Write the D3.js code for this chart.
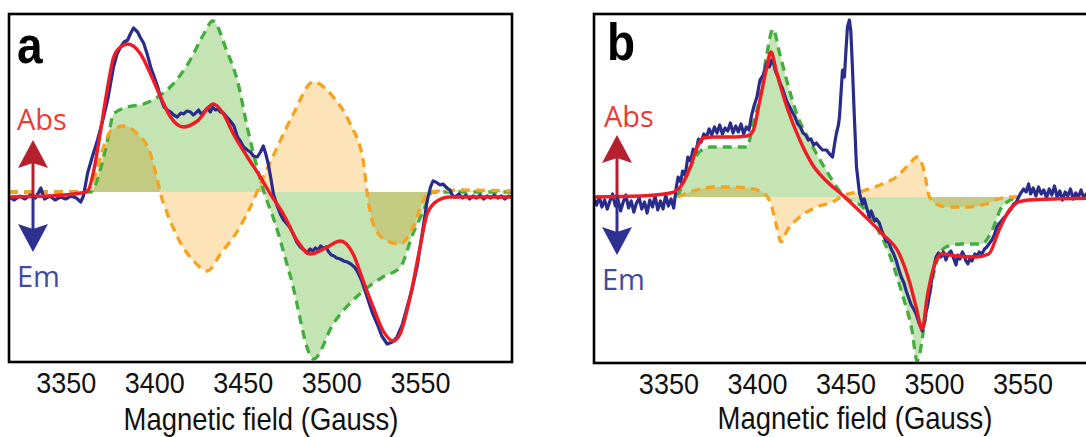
<!DOCTYPE html>
<meta charset="utf-8">
<style>
body { margin: 0; background: #fff; }
svg { display: block; }
.tick text { font-family: "Liberation Sans", Arial, sans-serif; font-size: 27px; fill: #111; }
.title { font-family: "Liberation Sans", Arial, sans-serif; font-size: 27.5px; fill: #111; }
.letter { font-family: "Liberation Sans", Arial, sans-serif; font-size: 46px; font-weight: bold; fill: #000; }
.lbl { font-family: "Open Sans", sans-serif; font-size: 29px; }
</style>
<svg id="chart" width="1086" height="437"></svg>
<script src="https://d3js.org/d3.v7.min.js"></script>
<script>
// field (Gauss), intensity (arb. units, 0 = baseline)
const ticks = [3350, 3400, 3450, 3500, 3550];

const blueA = [[3318,-0.05],[3321,-0.08],[3324,-0.04],[3327,-0.07],[3330,-0.03],[3333,-0.06],[3336,0.04],[3338,-0.07],[3341,-0.04],[3344,-0.08],[3347,-0.05],[3350,-0.07],[3353,-0.04],[3356,-0.06],[3358.5,-0.10],[3360,-0.04],[3362.4,0.19],[3365,0.35],[3368,0.52],[3371,0.72],[3373.7,0.92],[3377,1.25],[3379,1.38],[3381,1.45],[3383,1.50],[3385,1.52],[3386.5,1.58],[3388.3,1.64],[3390.6,1.60],[3392,1.55],[3394,1.49],[3396,1.38],[3398,1.25],[3400,1.15],[3402,1.05],[3404,0.92],[3405.5,0.85],[3407.5,0.82],[3409.2,0.80],[3411,0.77],[3413,0.75],[3415,0.79],[3416.5,0.78],[3418.5,0.81],[3420.5,0.80],[3422,0.77],[3423.5,0.79],[3425,0.82],[3426.5,0.78],[3428,0.80],[3430,0.84],[3431.7,0.80],[3433,0.85],[3434.6,0.82],[3436,0.83],[3437.4,0.80],[3439,0.79],[3441,0.75],[3443,0.71],[3445,0.66],[3447,0.55],[3448.6,0.51],[3450.5,0.45],[3452.5,0.42],[3454.3,0.40],[3456,0.36],[3458.2,0.35],[3460,0.40],[3461.6,0.46],[3463,0.38],[3464.4,0.28],[3466,0.12],[3467.3,-0.02],[3469,-0.12],[3471.2,-0.22],[3473,-0.28],[3475,-0.32],[3476.8,-0.36],[3478.5,-0.42],[3480.5,-0.50],[3482.5,-0.55],[3484.5,-0.58],[3486.4,-0.61],[3488,-0.57],[3489.5,-0.59],[3491,-0.56],[3492.5,-0.58],[3494,-0.54],[3495.5,-0.56],[3497,-0.55],[3498.5,-0.60],[3500,-0.63],[3501.5,-0.64],[3503,-0.66],[3505,-0.67],[3507,-0.69],[3509,-0.70],[3511,-0.72],[3513,-0.75],[3514.6,-0.79],[3517,-0.88],[3520.2,-1.05],[3523,-1.20],[3525.9,-1.32],[3528.5,-1.44],[3531.5,-1.52],[3534.5,-1.50],[3537.1,-1.45],[3540,-1.33],[3542.8,-1.15],[3545.5,-0.98],[3548.4,-0.75],[3551,-0.45],[3554.1,-0.09],[3556,0.05],[3557.4,0.11],[3559,0.10],[3561.4,0.07],[3563,0.08],[3565.3,0.04],[3567,0.02],[3568.2,-0.03],[3570,-0.05],[3572,-0.02],[3574,-0.06],[3576,-0.03],[3578,-0.07],[3580,-0.04],[3582,-0.06],[3584,-0.03],[3586,-0.07],[3588,-0.04],[3590,-0.06],[3592,-0.03],[3594,-0.06],[3596,-0.04],[3598,-0.07],[3600,-0.04],[3602,-0.05]];

const redA = [[3318,-0.05],[3340,-0.04],[3358.5,-0.01],[3362.4,0.01],[3365.8,0.21],[3369.7,0.61],[3373.7,1.05],[3377.1,1.35],[3381,1.45],[3385,1.48],[3392.3,1.38],[3397.9,1.18],[3403.6,0.95],[3409.2,0.75],[3416.5,0.65],[3424.4,0.71],[3433.4,0.88],[3439.1,0.78],[3444.7,0.58],[3452.6,0.35],[3459.9,0.15],[3465.6,-0.02],[3472.9,-0.22],[3480.8,-0.49],[3488.1,-0.62],[3497.7,-0.55],[3505,-0.49],[3512.3,-0.62],[3518,-0.89],[3523.6,-1.15],[3529.3,-1.39],[3534.9,-1.49],[3538.8,-1.42],[3544.5,-1.05],[3550.1,-0.55],[3554.1,-0.22],[3559.7,-0.09],[3567,-0.05],[3602,-0.05]];

const greenA = [[3318,0],[3364,0],[3370,0.25],[3374,0.55],[3377,0.78],[3385,0.85],[3394,0.88],[3402,0.95],[3409,1.05],[3419,1.28],[3428,1.58],[3433,1.71],[3441,1.41],[3447,1.11],[3453,0.61],[3458,0.25],[3462,0],[3468,-0.3],[3477,-0.85],[3490,-1.67],[3501,-1.32],[3516,-1.02],[3529,-0.85],[3539,-0.75],[3546,-0.42],[3552,-0.19],[3557,0],[3602,0]];

const orangeA = [[3318,0],[3360,0],[3364.1,0.05],[3371.4,0.45],[3375.4,0.61],[3382.7,0.66],[3390.6,0.58],[3397.9,0.38],[3401.9,0.11],[3403.6,-0.02],[3407.5,-0.22],[3413.1,-0.45],[3422.2,-0.69],[3430,-0.79],[3437.4,-0.62],[3447,-0.39],[3454.3,-0.15],[3461.6,0.15],[3469.5,0.45],[3478.5,0.78],[3489.8,1.10],[3501.1,0.95],[3510.7,0.68],[3518,0.31],[3520.3,-0.02],[3523.6,-0.32],[3531.5,-0.49],[3538.8,-0.52],[3546.2,-0.35],[3551.8,-0.09],[3555.7,0],[3572.7,0.02],[3602,0.01]];

const blueB = [[3308,-0.02],[3309.5,-0.08],[3311,0.00],[3312.5,-0.10],[3314,-0.03],[3315.5,-0.12],[3317,-0.04],[3318.5,0.03],[3320,-0.09],[3321.5,-0.02],[3323,-0.14],[3324.5,-0.05],[3326,0.02],[3327.5,-0.11],[3329,-0.04],[3330.5,-0.15],[3332,-0.06],[3333.5,-0.01],[3335,-0.12],[3336.5,-0.05],[3338,-0.16],[3339.5,-0.03],[3341,-0.10],[3342.5,0.01],[3344,-0.13],[3345.5,-0.04],[3347,-0.12],[3348.5,0.02],[3350,-0.09],[3351.5,-0.02],[3353,-0.11],[3354.5,0.10],[3355.5,0.20],[3357,0.15],[3358,0.26],[3359.5,0.22],[3361,0.40],[3362.5,0.36],[3364,0.48],[3365.5,0.45],[3367,0.58],[3368.5,0.55],[3370,0.63],[3371.5,0.60],[3373,0.68],[3374.5,0.62],[3376,0.70],[3377.5,0.64],[3379,0.72],[3380.5,0.63],[3382,0.69],[3383.5,0.66],[3385,0.74],[3386.5,0.64],[3388,0.71],[3389.5,0.65],[3391,0.73],[3392.5,0.63],[3394,0.70],[3395.5,0.67],[3397,0.82],[3398.5,0.92],[3400,1.00],[3401.7,1.17],[3403.5,1.22],[3405.6,1.34],[3407,1.30],[3408.4,1.37],[3409.5,1.33],[3410.6,1.25],[3412,1.20],[3413,1.14],[3414.5,1.08],[3416,1.00],[3417,0.95],[3418.5,0.90],[3420.2,0.84],[3421.5,0.80],[3423,0.73],[3424.5,0.70],[3426,0.64],[3427.5,0.62],[3429,0.57],[3430.5,0.58],[3432,0.52],[3433.5,0.54],[3435.4,0.50],[3437,0.47],[3439.3,0.47],[3441,0.43],[3442.7,0.40],[3444,0.55],[3444.9,0.64],[3446,0.72],[3446.6,0.80],[3447.5,1.05],[3448.3,1.27],[3449.4,1.20],[3450.2,1.45],[3451.1,1.70],[3452.2,1.77],[3453,1.66],[3453.9,1.30],[3455,0.80],[3456.2,0.30],[3457.9,0.04],[3459.6,-0.07],[3460.6,-0.02],[3461.8,-0.10],[3463.5,-0.20],[3464.5,-0.14],[3465.2,-0.17],[3466.5,-0.24],[3467.4,-0.22],[3469.1,-0.26],[3470.5,-0.34],[3473,-0.44],[3474.5,-0.46],[3475.8,-0.52],[3477,-0.56],[3478.7,-0.64],[3480,-0.72],[3481.5,-0.80],[3483,-0.86],[3484.3,-0.94],[3485.5,-1.00],[3487.1,-1.08],[3488.5,-1.12],[3489.9,-1.17],[3491.5,-1.26],[3493.3,-1.34],[3494.5,-1.26],[3495.5,-1.15],[3497.2,-1.00],[3498.5,-0.84],[3499.4,-0.75],[3501.1,-0.60],[3502.5,-0.56],[3503.9,-0.60],[3505.3,-0.55],[3506.7,-0.63],[3508,-0.57],[3509.5,-0.54],[3511,-0.61],[3512.4,-0.68],[3513.5,-0.58],[3514.6,-0.62],[3516,-0.55],[3516.9,-0.58],[3518,-0.64],[3519.1,-0.67],[3520.5,-0.60],[3521.4,-0.64],[3523,-0.57],[3524.2,-0.59],[3525.5,-0.55],[3527,-0.57],[3528.5,-0.52],[3529.8,-0.50],[3531,-0.47],[3532.6,-0.43],[3534,-0.38],[3535.5,-0.30],[3536.5,-0.27],[3538,-0.24],[3539.3,-0.21],[3540.5,-0.19],[3542.1,-0.15],[3543.5,-0.12],[3545,-0.07],[3546.5,-0.05],[3547.8,0.00],[3549,0.04],[3550.6,0.08],[3552,0.05],[3553.4,0.13],[3554.5,0.03],[3556,0.09],[3557.5,0.01],[3559,0.10],[3560.5,0.03],[3562,0.07],[3563.5,-0.01],[3565,0.08],[3566.5,0.02],[3568,0.11],[3569.5,0.00],[3571,0.06],[3572.5,-0.03],[3574,0.05],[3575.5,0.01],[3577,0.08],[3578.5,-0.02],[3580,0.04],[3581.5,0.00],[3583,0.07],[3584.5,-0.01],[3586,0.03],[3588,0.00],[3590,0.02],[3592,-0.01]];

const redB = [[3308,0],[3334.3,0.01],[3351.1,0.04],[3356.7,0.10],[3362.4,0.30],[3366.3,0.50],[3369.7,0.59],[3375.3,0.60],[3386.5,0.60],[3394.4,0.61],[3397.8,0.66],[3401.7,0.97],[3405.6,1.30],[3407.9,1.45],[3411.2,1.24],[3416.9,0.90],[3424.2,0.57],[3431.5,0.32],[3441,0.13],[3448.3,0.02],[3459.6,-0.17],[3470.8,-0.37],[3480.4,-0.57],[3486,-0.84],[3489.9,-1.10],[3493.3,-1.32],[3496.1,-1.00],[3501.1,-0.64],[3504.5,-0.57],[3512.4,-0.59],[3523.6,-0.60],[3530.9,-0.57],[3536.5,-0.34],[3542.1,-0.14],[3547.8,-0.05],[3553.4,-0.03],[3592,-0.01]];

const greenB = [[3355.1,0],[3360.7,0.23],[3368,0.46],[3373.6,0.50],[3384.8,0.50],[3394.4,0.50],[3397.8,0.73],[3401.7,1.00],[3405.6,1.43],[3409,1.68],[3412.9,1.43],[3416.9,1.16],[3422.5,0.83],[3429.8,0.56],[3439.3,0.26],[3446.6,0.06],[3449.4,0],[3459.6,-0.10],[3467.4,-0.30],[3474.7,-0.57],[3482,-0.97],[3487.6,-1.34],[3490.4,-1.64],[3495.5,-1.17],[3501.1,-0.67],[3506.7,-0.50],[3515.7,-0.47],[3526.9,-0.47],[3532.6,-0.34],[3538.2,-0.10],[3542.1,-0.04],[3547.8,0]];

const orangeB = [[3355.1,0],[3364,0.06],[3375.3,0.10],[3384.8,0.10],[3394.4,0.09],[3401.7,0.06],[3405.6,0.01],[3408.4,-0.10],[3411.2,-0.30],[3413.5,-0.45],[3416.9,-0.34],[3424.2,-0.20],[3433.7,-0.10],[3442.7,-0.05],[3448.3,0.01],[3459.6,0.06],[3470.8,0.13],[3478.7,0.20],[3486,0.33],[3490.4,0.40],[3494.4,0.26],[3497.2,0.01],[3501.1,-0.07],[3508.4,-0.10],[3519.7,-0.10],[3529.2,-0.07],[3536.5,-0.02],[3542.1,0],[3547.8,0]];

const svg = d3.select("#chart");
const defs = svg.append("defs");

function panel(id, cfg, d) {
  const x = d3.scaleLinear().domain(cfg.xDomain).range([cfg.left, cfg.right]);
  const y = d3.scaleLinear().domain(cfg.yDomain).range([cfg.bottom, cfg.top]);
  const g = svg.append("g");

  defs.append("clipPath").attr("id", "clip" + id)
    .append("rect").attr("x", cfg.left).attr("y", cfg.top)
    .attr("width", cfg.right - cfg.left).attr("height", cfg.bottom - cfg.top);

  const plot = g.append("g").attr("clip-path", "url(#clip" + id + ")");

  const area = d3.area().x(p => x(p[0])).y0(y(0)).y1(p => y(p[1])).curve(d3.curveMonotoneX);
  const smooth = d3.line().x(p => x(p[0])).y(p => y(p[1])).curve(d3.curveMonotoneX);
  const raw = d3.line().x(p => x(p[0])).y(p => y(p[1]));

  plot.append("path").datum(d.green).attr("d", area).attr("fill", "#c4e4b3");
  plot.append("path").datum(d.orange).attr("d", area).attr("fill", "#fde3b8")
    .style("mix-blend-mode", "multiply");
  plot.append("path").datum(d.green).attr("d", smooth).attr("fill", "none")
    .attr("stroke", "#43ad3d").attr("stroke-width", 3.3).attr("stroke-dasharray", "9,6");
  plot.append("path").datum(d.orange).attr("d", smooth).attr("fill", "none")
    .attr("stroke", "#f5a320").attr("stroke-width", 3.3).attr("stroke-dasharray", "9,6");
  plot.append("path").datum(d.blue).attr("d", raw).attr("fill", "none")
    .attr("stroke", "#2a2c8c").attr("stroke-width", 3.2).attr("stroke-linejoin", "round");
  plot.append("path").datum(d.red).attr("d", smooth).attr("fill", "none")
    .attr("stroke", "#ee1c25").attr("stroke-width", 3.4);

  // frame
  g.append("rect").attr("x", cfg.left).attr("y", cfg.top)
    .attr("width", cfg.right - cfg.left).attr("height", cfg.bottom - cfg.top)
    .attr("fill", "none").attr("stroke", "#000").attr("stroke-width", 2.6);

  // axis labels
  const ax = g.append("g")
    .attr("transform", `translate(0,${cfg.bottom}) scale(1,1.12)`)
    .call(d3.axisBottom(x).tickValues(ticks).tickFormat(d3.format("d"))
      .tickSize(0).tickPadding(8.5));
  ax.select(".domain").remove();

  g.append("text").attr("class", "title")
    .attr("transform", `translate(${cfg.titleX},${cfg.titleY}) scale(1,1.12)`)
    .attr("text-anchor", "middle").text("Magnetic field (Gauss)");

  g.append("text").attr("class", "letter")
    .attr("transform", `translate(${cfg.letterX},${cfg.letterY}) scale(1,1.12)`)
    .text(id);

  // Abs / Em arrows
  const y0 = y(0) + cfg.arrowOff;
  const ax0 = cfg.arrowX;
  function arrow(tip, color) {
    const s = tip < y0 ? 1 : -1;  // 1 = up
    const base = tip + s * 28, notch = tip + s * 23;
    g.append("line").attr("x1", ax0).attr("x2", ax0).attr("y1", y0).attr("y2", notch)
      .attr("stroke", color).attr("stroke-width", 3);
    g.append("path")
      .attr("d", `M${ax0},${tip}L${ax0 + 15},${base}L${ax0},${notch}L${ax0 - 15},${base}Z`)
      .attr("fill", color);
  }
  arrow(cfg.absTip, "#b51f2e");
  arrow(cfg.emTip, "#2e3192");

  g.append("text").attr("class", "lbl").attr("x", cfg.absX).attr("y", cfg.absY)
    .attr("fill", "#ee3a35").text("Abs");
  g.append("text").attr("class", "lbl").attr("x", cfg.emX).attr("y", cfg.emY)
    .attr("fill", "#3f4da0").text("Em");
}

panel("a", {
  xDomain: [3318, 3602], left: 9, right: 512,
  yDomain: [-1.70, 1.78], top: 14, bottom: 362,
  titleX: 261, titleY: 430, letterX: 17, letterY: 63,
  arrowX: 33, arrowOff: 5, absTip: 140, emTip: 252,
  absX: 17, absY: 130, emX: 17, emY: 287
}, { blue: blueA, red: redA, green: greenA, orange: orangeA });

panel("b", {
  xDomain: [3308, 3592], left: 594, right: 1097,
  yDomain: [-1.66, 1.83], top: 14, bottom: 363,
  titleX: 855, titleY: 429, letterX: 607, letterY: 60,
  arrowX: 617, arrowOff: 0, absTip: 135, emTip: 255,
  absX: 604, absY: 127, emX: 602, emY: 290
}, { blue: blueB, red: redB, green: greenB, orange: orangeB });
</script>
